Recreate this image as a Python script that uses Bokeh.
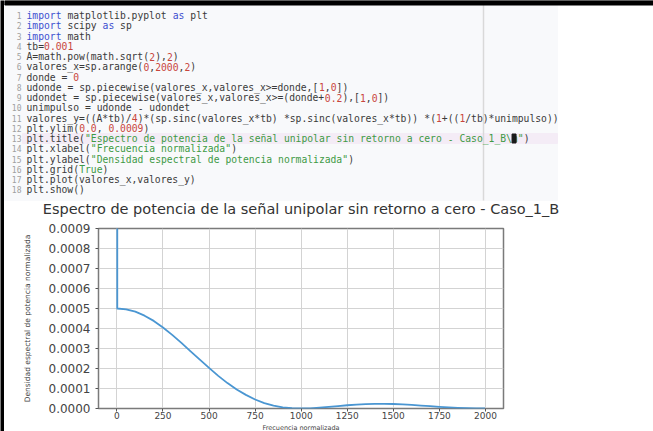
import re
from bokeh.plotting import figure
from bokeh.models import Range1d, FixedTicker, PrintfTickFormatter, ColumnDataSource
from bokeh.layouts import column, row
from bokeh.embed import file_html
from bokeh.resources import INLINE
from bokeh.core.properties import value

# ---------------- data ----------------
CODE_LINES = [
    "import matplotlib.pyplot as plt",
    "import scipy as sp",
    "import math",
    "tb=0.001",
    "A=math.pow(math.sqrt(2),2)",
    "valores_x=sp.arange(0,2000,2)",
    "donde = 0",
    "udonde = sp.piecewise(valores_x,valores_x>=donde,[1,0])",
    "udondet = sp.piecewise(valores_x,valores_x>=(donde+0.2),[1,0])",
    "unimpulso = udonde - udondet",
    "valores_y=((A*tb)/4)*(sp.sinc(valores_x*tb) *sp.sinc(valores_x*tb)) *(1+((1/tb)*unimpulso))",
    "plt.ylim(0.0, 0.0009)",
    'plt.title("Espectro de potencia de la señal unipolar sin retorno a cero - Caso_1_B\\n")',
    'plt.xlabel("Frecuencia normalizada")',
    'plt.ylabel("Densidad espectral de potencia normalizada")',
    "plt.grid(True)",
    "plt.plot(valores_x,valores_y)",
    "plt.show()",
]
CURRENT_LINE = 13

TITLE = "Espectro de potencia de la señal unipolar sin retorno a cero - Caso_1_B"
X_LABEL = "Frecuencia normalizada"
Y_LABEL = "Densidad espectral de potencia normalizada"

freq = [0, 2, 50, 100, 150, 200, 250, 300, 350, 400, 450, 500, 550, 600, 650,
        700, 750, 800, 850, 900, 950, 1000, 1050, 1100, 1150, 1200, 1250, 1300,
        1350, 1400, 1450, 1500, 1550, 1600, 1650, 1700, 1750, 1800, 1850, 1900,
        1950, 1998]
psd = [0.5005, 0.000500, 0.000496, 0.000484, 0.000464, 0.000438, 0.000405,
       0.000368, 0.000328, 0.000286, 0.000244, 0.000203, 0.000163, 0.000127,
       0.000095, 0.000068, 0.000045, 0.000027, 0.000014, 0.000006, 0.0000014,
       0.0, 0.0000011, 0.0000040, 0.0000079, 0.0000122, 0.0000162, 0.0000196,
       0.0000221, 0.0000234, 0.0000235, 0.0000225, 0.0000206, 0.0000179,
       0.0000148, 0.0000115, 0.0000083, 0.0000054, 0.0000031, 0.0000013,
       0.0000003, 0.0]

y_ticks = [0.0, 0.0001, 0.0002, 0.0003, 0.0004, 0.0005, 0.0006, 0.0007, 0.0008, 0.0009]
x_ticks = [0, 250, 500, 750, 1000, 1250, 1500, 1750, 2000]

# ---------------- layout constants ----------------
BAR = 4          # black frame of the screenshot (left side)
TOTAL_W = 653
TOTAL_H = 431
W = TOTAL_W - BAR
HA = 218         # code panel + chart title
HC = 10          # strip for the x-axis label
HB = TOTAL_H - HA - HC
CW = 5.85
X0 = 26
Y0 = 15
LH = 10.25
MONO = "DejaVu Sans Mono"
SANS = "DejaVu Sans"

C_DEF = "#3a3a3a"
C_KW = "#3d4fd0"
C_NUM = "#c8453c"
C_STR = "#3e9a45"


def blank(width, height, x0, x1, y0, y1):
    f = figure(width=width, height=height, x_range=Range1d(x0, x1), y_range=Range1d(y0, y1),
               output_backend="svg", toolbar_location=None,
               min_border=0, min_border_left=0, min_border_right=0,
               min_border_top=0, min_border_bottom=0,
               x_axis_type=None, y_axis_type=None, frame_align=False)
    f.outline_line_color = None
    f.background_fill_color = "white"
    f.border_fill_color = "white"
    return f


# left black edge
bar = blank(BAR, TOTAL_H, 0, 1, 0, 1)
bar.background_fill_color = "black"
bar.border_fill_color = "black"

# ---------------- code panel ----------------
code = blank(W, HA, BAR, BAR + W, HA, 0)

code.quad(left=BAR, right=557, top=4, bottom=200, color="#f8f9fb")
hy = Y0 + (CURRENT_LINE - 1) * LH
code.quad(left=22, right=557, top=hy - 5, bottom=hy + 5, color="#f4ecf6")
code.segment(x0=483, y0=4, x1=483, y1=200, line_color="#d9d9d9", line_width=1.5)
# top black edge of the screenshot
code.quad(left=BAR, right=BAR + W, top=0, bottom=4.5, color="black")

tx, ty, tt, tc = [], [], [], []
pat = re.compile(r'"[^"]*"|\b\d+(?:\.\d+)?\b|\b(?:import|as|True)\b')
for i, line in enumerate(CODE_LINES):
    y = Y0 + i * LH
    pos = 0
    segs = []
    for m in pat.finditer(line):
        if m.start() > pos:
            segs.append((pos, line[pos:m.start()], C_DEF))
        tok = m.group(0)
        if tok.startswith('"'):
            col = C_STR
        elif tok in ("import", "as"):
            col = C_KW
        elif tok == "True":
            col = C_STR
        else:
            col = C_NUM
        segs.append((m.start(), tok, col))
        pos = m.end()
    if pos < len(line):
        segs.append((pos, line[pos:], C_DEF))
    for start, s, col in segs:
        for w in re.finditer(r"\S+", s):
            tx.append(X0 + (start + w.start()) * CW)
            ty.append(y)
            tt.append(w.group(0))
            tc.append(col)

code.text(x="x", y="y", text="t", text_color="c",
          source=ColumnDataSource(dict(x=tx, y=ty, t=tt, c=tc)),
          text_font=value(MONO), text_font_size="9.7px",
          text_align="left", text_baseline="middle")

# line numbers
code.text(x=[21] * len(CODE_LINES), y=[Y0 + i * LH for i in range(len(CODE_LINES))],
          text=[str(i + 1) for i in range(len(CODE_LINES))],
          text_font=value(MONO), text_font_size="8px", text_color="#a0a0a0",
          text_align="right", text_baseline="middle")

# cursor
cx = X0 + 83 * CW
code.quad(left=cx, right=cx + 4, top=hy - 4.5, bottom=hy + 4.5, color="#1a1a1a")

# chart title (centred over the chart frame)
code.text(x=[300.5], y=[208], text=[TITLE], text_font=value(SANS), text_font_size="14.5px",
          text_color="#333333", text_align="center", text_baseline="middle")

# ---------------- chart ----------------
p = figure(width=W, height=HB, x_range=Range1d(-99.9, 2097.9), y_range=Range1d(0.0, 0.0009),
           output_backend="svg", toolbar_location=None,
           min_border_left=98 - BAR, min_border_right=TOTAL_W - 503,
           min_border_top=228 - HA, min_border_bottom=HA + HB - 408,
           frame_align=False)

p.background_fill_color = "white"
p.border_fill_color = "white"
p.outline_line_color = "#7a7a7a"
p.outline_line_width = 1.5

p.line(freq, psd, line_color="#4a96d2", line_width=1.8, line_join="round")

p.xaxis.ticker = FixedTicker(ticks=x_ticks)
p.yaxis.ticker = FixedTicker(ticks=y_ticks)
p.yaxis.formatter = PrintfTickFormatter(format="%.4f")

for ax in (p.xaxis[0], p.yaxis[0]):
    ax.axis_line_color = None
    ax.major_tick_line_color = "#555555"
    ax.major_tick_out = 3
    ax.major_tick_in = 0
    ax.minor_tick_out = 0
    ax.minor_tick_in = 0
    ax.major_label_text_color = "#444444"
    ax.major_label_text_font = SANS

p.xaxis.major_label_text_font_size = "9px"
p.xaxis.major_label_standoff = 0
p.yaxis.major_label_text_font_size = "12px"
p.yaxis.major_label_standoff = 5
p.yaxis.axis_label = Y_LABEL
p.yaxis.axis_label_text_font = SANS
p.yaxis.axis_label_text_font_size = "7.5px"
p.yaxis.axis_label_text_font_style = "normal"
p.yaxis.axis_label_text_color = "#444444"
p.yaxis.axis_label_standoff = 14

p.grid.grid_line_color = "#d3d3d3"
p.grid.grid_line_width = 1

# ---------------- x-axis label strip ----------------
strip = blank(W, HC, BAR, BAR + W, TOTAL_H, TOTAL_H - HC)
strip.text(x=[300.5], y=[TOTAL_H - HC + 0.5], text=[X_LABEL], text_font=value(SANS),
           text_font_size="6.5px", text_color="#444444",
           text_align="center", text_baseline="top")

layout = row(bar, column(code, p, strip, spacing=0), spacing=0)
open("out.html", "w").write(file_html(layout, INLINE))
